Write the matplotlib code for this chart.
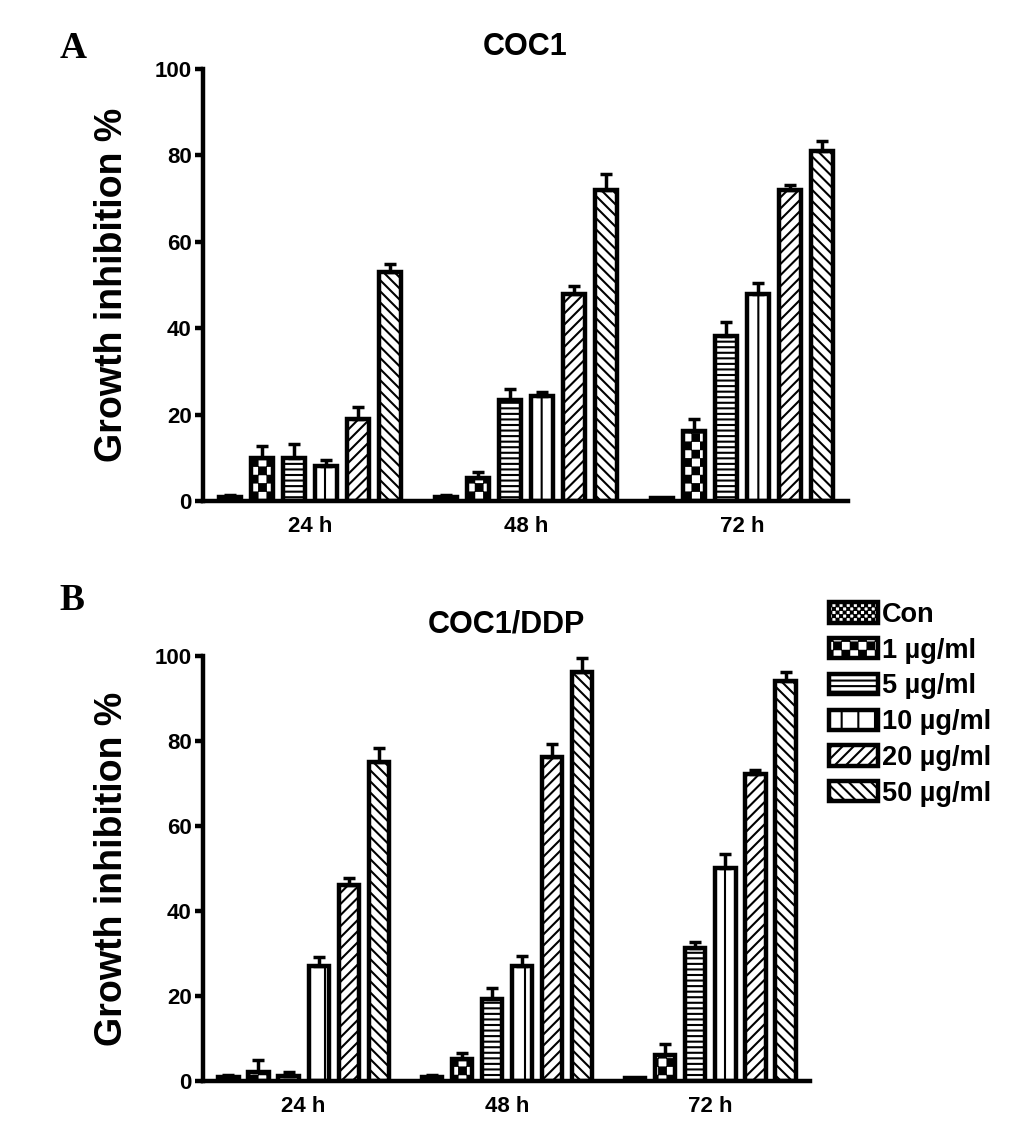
import numpy as np
import matplotlib
matplotlib.use("Agg")
import matplotlib.pyplot as plt
import matplotlib.hatch as mhatch
from matplotlib.path import Path

# data (mean, top of error bar)
times = ["24 h", "48 h", "72 h"]
doses = ["Con", "1 µg/ml", "5 µg/ml", "10 µg/ml", "20 µg/ml", "50 µg/ml"]

coc1_mean = [
    [1.0, 10.0, 10.0, 8.0, 19.0, 53.0],
    [1.0, 5.2, 23.3, 24.2, 48.0, 72.0],
    [0.6, 16.2, 38.2, 48.0, 72.0, 81.0],
]
coc1_err = [
    [0.3, 2.8, 3.3, 1.4, 2.7, 1.8],
    [0.3, 1.6, 2.6, 1.0, 1.8, 3.6],
    [0.2, 2.8, 3.2, 2.4, 1.2, 2.3],
]
ddp_mean = [
    [1.0, 2.2, 1.2, 27.0, 46.2, 75.0],
    [1.0, 5.1, 19.2, 27.1, 76.2, 96.2],
    [0.6, 6.2, 31.2, 50.1, 72.2, 94.1],
]
ddp_err = [
    [0.3, 2.7, 0.9, 2.2, 1.6, 3.4],
    [0.3, 1.6, 2.7, 2.2, 3.2, 3.4],
    [0.2, 2.6, 1.6, 3.4, 1.0, 2.2],
]

hatches = ["O" * 14, "O" * 6, "---", "|", "///", "\\\\\\"]


# checkerboard hatch, hooked in place of the big circles ("O")
class CheckerHatch(mhatch.HatchPatternBase):
    def __init__(self, hatch, density):
        self.n = hatch.count("O") * 2
        self.num_vertices = (self.n * self.n // 2) * 5

    def set_vertices_and_codes(self, vertices, codes):
        n = self.n
        step = 1.0 / n
        ins = 0.008
        k = 0
        for i in range(n):
            for j in range(n):
                if (i + j) % 2:
                    continue
                x0, y0 = i * step + ins, j * step + ins
                x1, y1 = (i + 1) * step - ins, (j + 1) * step - ins
                vertices[k:k + 5] = [(x0, y0), (x1, y0), (x1, y1), (x0, y1), (x0, y0)]
                codes[k:k + 5] = [Path.MOVETO, Path.LINETO, Path.LINETO,
                                  Path.LINETO, Path.CLOSEPOLY]
                k += 5


mhatch._hatch_types = [CheckerHatch if t is mhatch.LargeCircles else t
                       for t in mhatch._hatch_types]

plt.rcParams["font.family"] = ["Liberation Sans", "DejaVu Sans"]
plt.rcParams["font.weight"] = "bold"
plt.rcParams["hatch.linewidth"] = 1.5
plt.rcParams["hatch.color"] = "black"

fig = plt.figure(figsize=(10.33, 11.25), dpi=100)
ax_a = fig.add_axes([0.1965, 0.5547, 0.6244, 0.384])
ax_b = fig.add_axes([0.1965, 0.0391, 0.5876, 0.3778])

pitch = 0.148
width = 0.1
group_x = np.arange(len(times))


def draw_panel(ax, means, errs, title, title_pad):
    means = np.array(means)
    errs = np.array(errs)
    bars = []
    for i, dose in enumerate(doses):
        x = group_x + (i - 2.5) * pitch
        b = ax.bar(x, means[:, i], width=width, color="white", edgecolor="black",
                   linewidth=3.2, hatch=hatches[i], label=dose, zorder=2)
        ax.errorbar(x, means[:, i], yerr=[np.zeros(len(x)), errs[:, i]], fmt="none",
                    ecolor="black", elinewidth=2.5, capsize=4.5, capthick=2.5, zorder=3)
        bars.append(b)
    ax.set_xlim(-0.495, 2.49)
    ax.set_ylim(0, 100)
    ax.set_yticks([0, 20, 40, 60, 80, 100])
    ax.set_xticks(group_x)
    ax.set_xticklabels(times)
    for s in ["top", "right"]:
        ax.spines[s].set_visible(False)
    for s in ["left", "bottom"]:
        ax.spines[s].set_linewidth(3.2)
    ax.tick_params(axis="y", length=6, width=3.2, labelsize=16, pad=2)
    ax.tick_params(axis="x", length=0, labelsize=16, pad=11)
    ax.set_ylabel("Growth inhibition %", fontsize=27, fontweight="bold", labelpad=18)
    ax.set_title(title, fontsize=22, fontweight="bold", pad=title_pad)
    return bars


draw_panel(ax_a, coc1_mean, coc1_err, "COC1", 10)
bars = draw_panel(ax_b, ddp_mean, ddp_err, "COC1/DDP", 17)

fig.legend(handles=bars, labels=doses, loc="upper left",
           bbox_to_anchor=(0.8025, 0.465), frameon=False, fontsize=19.5,
           handlelength=1.8, handleheight=0.78, handletextpad=0.15,
           labelspacing=0.36, borderpad=0, borderaxespad=0)

fig.text(0.058, 0.972, "A", family="Liberation Serif", fontweight="bold",
         fontsize=27, va="top", ha="left")
fig.text(0.058, 0.482, "B", family="Liberation Serif", fontweight="bold",
         fontsize=27, va="top", ha="left")

fig.savefig("out.png", dpi=100)
